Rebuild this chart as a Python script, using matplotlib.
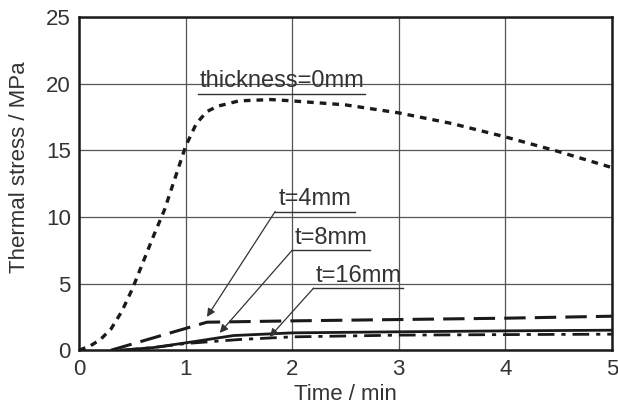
import matplotlib
matplotlib.use("Agg")
import matplotlib.pyplot as plt

plt.rcParams["font.family"] = ["Liberation Sans Narrow", "Liberation Sans", "DejaVu Sans"]

# thickness = 0 mm
t0_x = [0, 0.1, 0.2, 0.3, 0.4, 0.5, 0.6, 0.7, 0.8, 0.9, 1.0, 1.1, 1.2, 1.3,
        1.5, 1.8, 2.0, 2.5, 3.0, 3.5, 4.0, 4.5, 5.0]
t0_y = [0, 0.3, 0.8, 1.6, 2.9, 4.6, 6.6, 8.6, 10.5, 12.9, 15.3, 17.0, 17.9,
        18.3, 18.7, 18.8, 18.7, 18.4, 17.8, 17.0, 16.0, 14.9, 13.7]

# t = 4 mm
t4_x = [0.3, 1.2, 2.0, 3.0, 4.0, 5.0]
t4_y = [0.0, 2.1, 2.2, 2.3, 2.4, 2.55]

# t = 8 mm
t8_x = [0.4, 0.7, 1.0, 1.45, 2.0, 3.0, 4.0, 5.0]
t8_y = [0.0, 0.2, 0.55, 1.1, 1.3, 1.38, 1.45, 1.5]

# t = 16 mm
t16_x = [0.4, 0.7, 1.0, 1.5, 2.0, 3.0, 4.0, 5.0]
t16_y = [0.0, 0.2, 0.5, 0.8, 1.0, 1.13, 1.17, 1.2]

fig = plt.figure(figsize=(6.18, 4.12), dpi=100)
ax = fig.add_axes([0.128, 0.150, 0.862, 0.809])

ax.plot(t0_x, t0_y, color="#1a1a1a", lw=2.4, dashes=(2, 1.8))
ax.plot(t4_x, t4_y, color="#1a1a1a", lw=2.2, dashes=(7, 3))
ax.plot(t8_x, t8_y, color="#1a1a1a", lw=2.0)
ax.plot(t16_x, t16_y, color="#1a1a1a", lw=2.0, dashes=(6, 2.5, 1.5, 2.5))

ax.set_xlim(0, 5)
ax.set_ylim(0, 25)
ax.set_xticks([0, 1, 2, 3, 4, 5])
ax.set_yticks([0, 5, 10, 15, 20, 25])
ax.grid(True, color="#555555", lw=0.9)
ax.tick_params(length=0, labelsize=16, pad=6, colors="#333333")
for s in ax.spines.values():
    s.set_linewidth(1.8)
    s.set_color("#1a1a1a")

ax.set_xlabel("Time / min", fontsize=16, color="#333333", labelpad=3)
ax.set_ylabel("Thermal stress / MPa", fontsize=16, color="#333333")
ax.yaxis.set_label_coords(-0.092, 0.55)

lc = "#333333"
# labels with underline leaders and arrows
ax.text(1.90, 19.35, "thickness=0mm", fontsize=17, color=lc, ha="center",
        va="bottom")
ax.plot([1.12, 2.68], [19.2, 19.2], color=lc, lw=1.0)

labels = [
    ("t=4mm", 1.84, 2.59, 10.4, (1.2, 2.5)),
    ("t=8mm", 2.0, 2.73, 7.5, (1.32, 1.3)),
    ("t=16mm", 2.2, 3.04, 4.65, (1.79, 1.0)),
]
for txt, x0, x1, yy, tip in labels:
    ax.plot([x0, x1], [yy, yy], color=lc, lw=1.0)
    ax.text((x0 + x1) / 2, yy + 0.1, txt, fontsize=17, color=lc,
            ha="center", va="bottom")
    ax.annotate("", xy=tip, xytext=(x0, yy),
                arrowprops=dict(arrowstyle="-|>", color=lc, lw=0.9,
                                mutation_scale=12, shrinkA=0, shrinkB=0))

fig.savefig("out.png", dpi=100)
